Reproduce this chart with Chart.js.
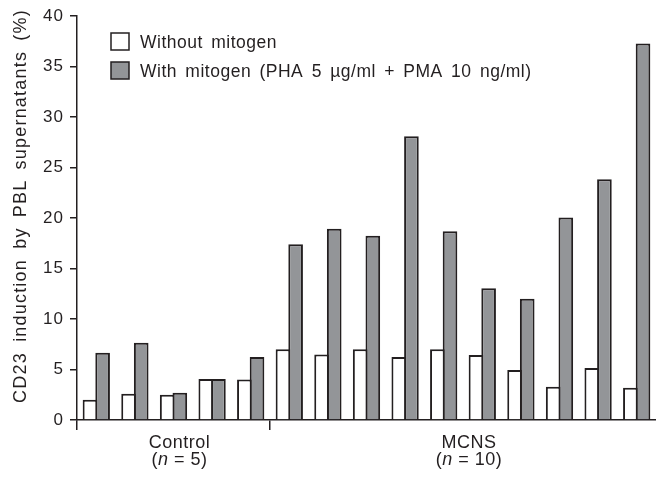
<!DOCTYPE html>
<html>
<head>
<meta charset="utf-8">
<script src="https://cdn.jsdelivr.net/npm/chart.js@4/dist/chart.umd.min.js"></script>
<style>
  html, body { margin: 0; padding: 0; background: #fff; }
  #wrap { width: 656px; height: 477px; }
</style>
</head>
<body>
<div id="wrap"><canvas id="cd23Chart"></canvas></div>
<script>
// data
const subjects = ['C1', 'C2', 'C3', 'C4', 'C5',
                  'M1', 'M2', 'M3', 'M4', 'M5', 'M6', 'M7', 'M8', 'M9', 'M10'];
const withoutMitogen = [2.0, 2.6, 2.5, 4.05, 4.0,
                        7.0, 6.5, 7.0, 6.25, 7.0, 6.45, 4.95, 3.3, 5.15, 3.2];
const withMitogen = [6.65, 7.65, 2.7, 4.05, 6.25,
                     17.4, 18.95, 18.25, 28.1, 18.7, 13.05, 12.0, 20.05, 23.85, 37.3];
const groups = [
  { name: 'Control', n: 5, from: 0, to: 4 },
  { name: 'MCNS', n: 10, from: 5, to: 14 }
];
const yTicks = [0, 5, 10, 15, 20, 25, 30, 35, 40];
const yTitle = 'CD23 induction by PBL supernatants (%)';

const ink = '#231f20';
const fontFamily = '"Liberation Sans", Arial, Helvetica, sans-serif';

// wider type like the printed figure
const spacing = {
  id: 'spacing',
  beforeDraw(chart) {
    chart.ctx.letterSpacing = '1px';
  }
};

// legend, axis title and group labels drawn by hand
const annotate = {
  id: 'annotate',
  afterDraw(chart) {
    const ctx = chart.ctx;
    const x = chart.scales.x;
    ctx.save();
    ctx.fillStyle = ink;
    ctx.textBaseline = 'alphabetic';
    ctx.letterSpacing = '0.5px';

    // group labels under the axis
    groups.forEach(g => {
      const cx = (x.getPixelForValue(g.from) + x.getPixelForValue(g.to)) / 2 + 6;
      ctx.font = '18px ' + fontFamily;
      ctx.textAlign = 'center';
      ctx.fillText(g.name, cx, 448);
      // "(n = 5)" with italic n
      const parts = [['(', 'normal'], ['n', 'italic'], [' = ' + g.n + ')', 'normal']];
      let total = 0;
      parts.forEach(p => { ctx.font = p[1] + ' 18px ' + fontFamily; total += ctx.measureText(p[0]).width; });
      let px = cx - total / 2;
      ctx.textAlign = 'left';
      parts.forEach(p => {
        ctx.font = p[1] + ' 18px ' + fontFamily;
        ctx.fillText(p[0], px, 465);
        px += ctx.measureText(p[0]).width;
      });
    });

    // y axis title
    ctx.save();
    ctx.translate(26, 206);
    ctx.rotate(-Math.PI / 2);
    ctx.font = '18px ' + fontFamily;
    ctx.letterSpacing = '1.2px';
    ctx.wordSpacing = '4px';
    ctx.textAlign = 'center';
    ctx.fillText(yTitle, 0, 0);
    ctx.restore();

    // legend
    chart.data.datasets.forEach((ds, i) => {
      const by = 33 + i * 29;
      ctx.fillStyle = ds.backgroundColor;
      ctx.fillRect(111, by, 18, 17);
      ctx.strokeStyle = ink;
      ctx.lineWidth = 1.5;
      ctx.strokeRect(111, by, 18, 17);
      ctx.fillStyle = ink;
      ctx.font = '17.5px ' + fontFamily;
      ctx.letterSpacing = '0.5px';
      ctx.wordSpacing = '3px';
      ctx.textAlign = 'left';
      ctx.fillText(ds.label, 140, by + 15);
    });
    ctx.restore();
  }
};

new Chart(document.getElementById('cd23Chart'), {
  type: 'bar',
  data: {
    labels: subjects,
    datasets: [
      {
        label: 'Without mitogen',
        data: withoutMitogen,
        backgroundColor: '#ffffff',
        borderColor: ink,
        borderWidth: 2,
        borderSkipped: 'bottom'
      },
      {
        label: 'With mitogen (PHA 5 µg/ml + PMA 10 ng/ml)',
        data: withMitogen,
        backgroundColor: '#939598',
        borderColor: ink,
        borderWidth: 2,
        borderSkipped: 'bottom'
      }
    ]
  },
  options: {
    responsive: true,
    maintainAspectRatio: false,
    animation: false,
    layout: { padding: { top: 15, right: 0, bottom: 0, left: 0 } },
    datasets: {
      // white and grey bars share one border line
      bar: { categoryPercentage: 0.655, barPercentage: 1.158 }
    },
    scales: {
      x: {
        grid: {
          display: true,
          drawOnChartArea: false,
          tickLength: 10,
          lineWidth: 1.5,
          color: c => (c.index === 0 || c.index === 5) ? ink : 'rgba(0,0,0,0)'
        },
        border: { display: true, color: ink, width: 1.5 },
        ticks: { display: false },
        afterFit: s => { s.height = 57; }
      },
      y: {
        min: 0,
        max: 40,
        afterBuildTicks: s => { s.ticks = yTicks.map(v => ({ value: v })); },
        grid: {
          drawOnChartArea: false,
          tickLength: 7,
          lineWidth: 1.5,
          color: ink
        },
        border: { display: true, color: ink, width: 1.5 },
        ticks: {
          color: ink,
          padding: 6,
          font: { family: fontFamily, size: 17 }
        },
        afterFit: s => { s.width = 77; }
      }
    },
    plugins: {
      legend: { display: false },
      tooltip: { enabled: false }
    }
  },
  plugins: [spacing, annotate]
});
</script>
</body>
</html>
